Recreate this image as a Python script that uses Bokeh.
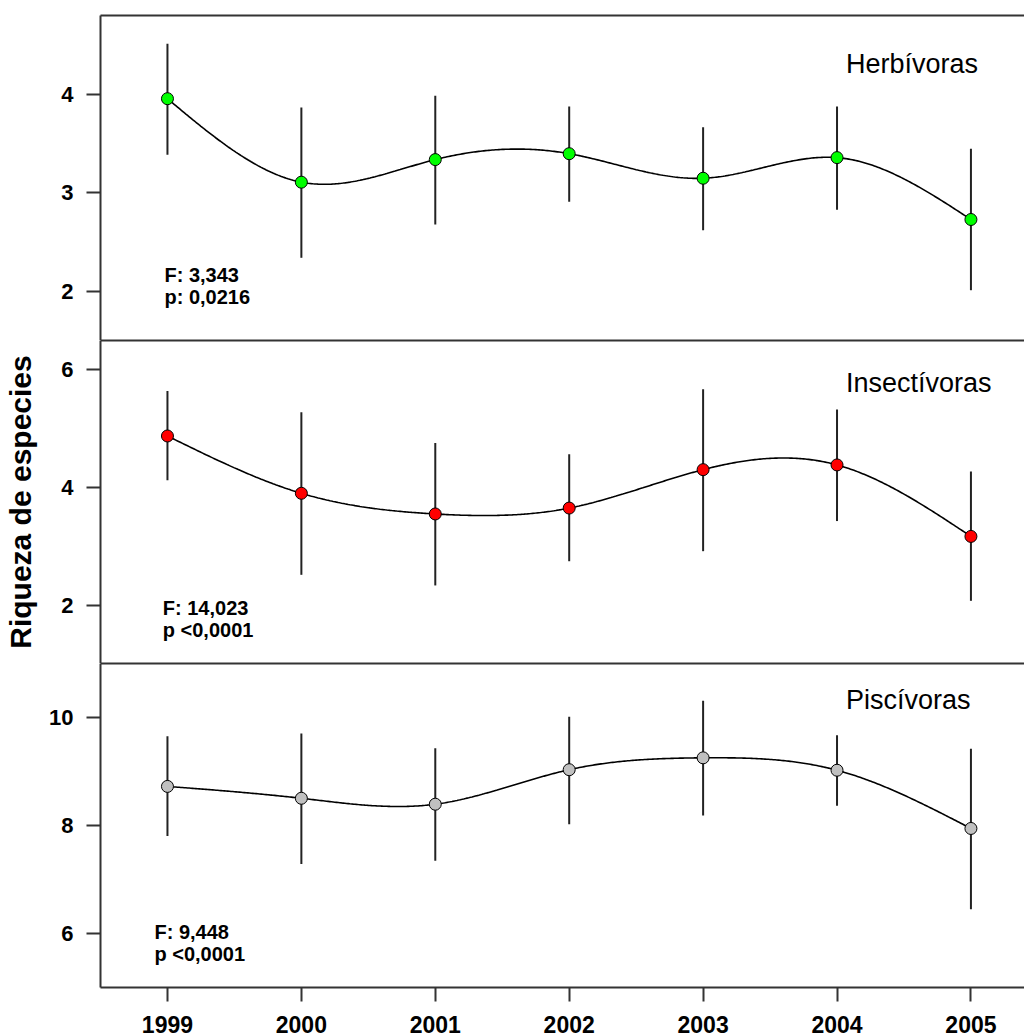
import numpy as np
from bokeh.plotting import figure
from bokeh.models import Range1d, LinearAxis, FixedTicker, Label
from bokeh.layouts import column
from bokeh.embed import file_html
from bokeh.resources import INLINE

years = [1999, 2000, 2001, 2002, 2003, 2004, 2005]

herb_mean = [3.96, 3.11, 3.34, 3.40, 3.15, 3.36, 2.73]
herb_upper = [4.52, 3.87, 3.99, 3.88, 3.67, 3.88, 3.45]
herb_lower = [3.39, 2.34, 2.68, 2.91, 2.62, 2.83, 2.01]

insect_mean = [4.87, 3.90, 3.55, 3.65, 4.30, 4.38, 3.17]
insect_upper = [5.63, 5.27, 4.75, 4.56, 5.66, 5.32, 4.27]
insect_lower = [4.12, 2.52, 2.34, 2.75, 2.92, 3.43, 2.08]

pisc_mean = [8.73, 8.51, 8.40, 9.04, 9.26, 9.03, 7.95]
pisc_upper = [9.66, 9.71, 9.44, 10.02, 10.32, 9.68, 9.43]
pisc_lower = [7.81, 7.29, 7.35, 8.03, 8.19, 8.37, 6.45]

panel_names = ["Herbívoras", "Insectívoras", "Piscívoras"]
stats_f = ["F: 3,343", "F: 14,023", "F: 9,448"]
stats_p = ["p: 0,0216", "p <0,0001", "p <0,0001"]
ylabel = "Riqueza de especies"

FONT = "Liberation Sans"
AX = "#333333"


def natural_spline(x, y, n=80):
    x = np.asarray(x, float)
    y = np.asarray(y, float)
    m = len(x)
    h = np.diff(x)
    A = np.zeros((m, m))
    r = np.zeros(m)
    A[0, 0] = 1
    A[-1, -1] = 1
    for i in range(1, m - 1):
        A[i, i - 1] = h[i - 1]
        A[i, i] = 2 * (h[i - 1] + h[i])
        A[i, i + 1] = h[i]
        r[i] = 3 * ((y[i + 1] - y[i]) / h[i] - (y[i] - y[i - 1]) / h[i - 1])
    c = np.linalg.solve(A, r)
    xs, ys = [], []
    for i in range(m - 1):
        t = np.linspace(0, h[i], n, endpoint=(i == m - 2))
        b = (y[i + 1] - y[i]) / h[i] - h[i] * (2 * c[i] + c[i + 1]) / 3
        d = (c[i + 1] - c[i]) / (3 * h[i])
        xs.extend(x[i] + t)
        ys.extend(y[i] + b * t + c[i] * t ** 2 + d * t ** 3)
    return xs, ys


xr = Range1d(1998.5, 2005.4)


def line_axis():
    return LinearAxis(ticker=FixedTicker(ticks=[]), axis_line_width=2, axis_line_color=AX,
                      major_tick_out=0, major_tick_in=0, minor_tick_out=0, minor_tick_in=0,
                      major_label_standoff=0, major_label_text_font_size="0px")


def make_panel(height, yrange, yticks, btop, bbottom, mean, upper, lower, color,
               name, name_y, fx, fy, py, ftext, ptext, bottom_axis=False, label=None):
    p = figure(width=1024, height=height, x_range=xr, y_range=Range1d(*yrange),
               output_backend="svg", toolbar_location=None,
               x_axis_location=None, y_axis_location=None,
               min_border_left=100, min_border_right=0,
               min_border_top=btop, min_border_bottom=bbottom)
    p.outline_line_color = None
    p.background_fill_color = "white"
    p.border_fill_color = "white"
    p.xgrid.visible = False
    p.ygrid.visible = False
    left = LinearAxis(ticker=FixedTicker(ticks=yticks), axis_line_width=2, axis_line_color=AX,
                      major_tick_out=14, major_tick_in=0, minor_tick_out=0, minor_tick_in=0,
                      major_tick_line_width=2, major_tick_line_color=AX,
                      major_label_standoff=13, major_label_text_font=FONT,
                      major_label_text_font_style="bold", major_label_text_font_size="22px",
                      major_label_text_color="black")
    if label:
        left.axis_label = label
        left.axis_label_text_font = FONT
        left.axis_label_text_font_style = "bold"
        left.axis_label_text_font_size = "30px"
        left.axis_label_text_color = "black"
        left.axis_label_standoff = 21
    p.add_layout(left, "left")
    p.add_layout(line_axis(), "above")
    if bottom_axis:
        below = LinearAxis(ticker=FixedTicker(ticks=years), axis_line_width=2, axis_line_color=AX,
                           major_tick_out=14, major_tick_in=0, minor_tick_out=0, minor_tick_in=0,
                           major_tick_line_width=2, major_tick_line_color=AX,
                           major_label_standoff=14, major_label_text_font=FONT,
                           major_label_text_font_style="bold", major_label_text_font_size="23px",
                           major_label_text_color="black")
        below.major_label_overrides = {y: str(y) for y in years}
        p.add_layout(below, "below")
    else:
        p.add_layout(line_axis(), "below")

    p.segment(x0=years, y0=lower, x1=years, y1=upper, line_width=2, line_color="#222222")
    xs, ys = natural_spline(years, mean)
    p.line(xs, ys, line_width=1.6, line_color="black")
    p.scatter(years, mean, size=12, fill_color=color, line_color="black", line_width=1)

    p.add_layout(Label(x=2004.067, y=name_y, text=name, text_font=FONT,
                       text_font_size="27px", text_color="black", text_baseline="alphabetic"))
    for txt, yy in ((ftext, fy), (ptext, py)):
        p.add_layout(Label(x=fx, y=yy, text=txt, text_font=FONT, text_font_style="bold",
                           text_font_size="20px", text_color="black", text_baseline="alphabetic"))
    return p


p1 = make_panel(340, (1.498, 4.807), [2, 3, 4], 15, 0, herb_mean, herb_upper, herb_lower,
                "#00FF00", panel_names[0], 4.31, 1998.978, 2.165, 1.944, stats_f[0], stats_p[0])
p2 = make_panel(323, (1.019, 6.486), [2, 4, 6], 0, 0, insect_mean, insect_upper, insect_lower,
                "#FF0000", panel_names[1], 5.775, 1998.965, 1.960, 1.588, stats_f[1], stats_p[1],
                label=ylabel)
p3 = make_panel(373, (5.0, 11.01), [6, 8, 10], 0, 49, pisc_mean, pisc_upper, pisc_lower,
                "#C0C0C0", panel_names[2], 10.33, 1998.903, 6.03, 5.614, stats_f[2], stats_p[2],
                bottom_axis=True)

layout = column(p1, p2, p3, spacing=0)
open("out.html", "w").write(file_html(layout, INLINE))
